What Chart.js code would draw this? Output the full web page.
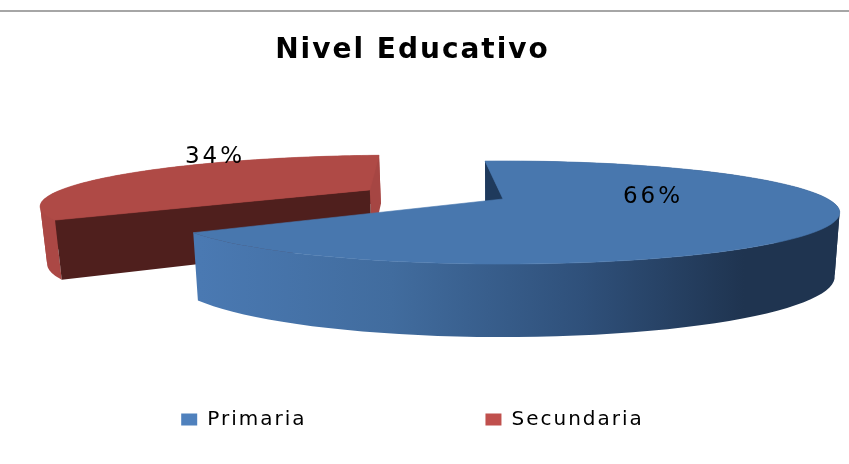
<!DOCTYPE html>
<html>
<head>
<meta charset="utf-8">
<style>
  html, body { margin: 0; padding: 0; background: #fff; }
  canvas { display: block; }
</style>
<script src="https://cdn.jsdelivr.net/npm/chart.js@4/dist/chart.umd.js"></script>
</head>
<body>
<canvas id="nivel-chart" width="849" height="464"></canvas>
<script>
const categories = ['Primaria', 'Secundaria'];
const values = [66, 34];
const chartTitle = 'Nivel Educativo';

const legendColors = ['#4f81bd', '#c0504d'];
const topColors = ['#4877ae', '#af4a46'];
const frontCutColors = ['#1f3a5c', '#4f1f1d'];
const backCutColors = ['#1f3a5c', '#a64643'];
const wallColors = [null, '#ab4845'];
const wallDepths = [62, 56];
const explodeShares = [0, 0.475];

// the flat pie from Chart.js gets tilted onto this ellipse
const CENTER_X = 503;
const CENTER_Y = 199;
const RADIUS_X = 325;
const RADIUS_Y = 48;
const PERSPECTIVE = 0.262;
const LABEL_POSITIONS = [[653, 197], [215, 157]];

function project(u, v) {
  const w = 1 - PERSPECTIVE * v;
  return [CENTER_X + (RADIUS_X * u) / w, CENTER_Y + (RADIUS_Y * v) / w];
}

// bottom rim sits a bit lower towards the viewer and a bit narrower
function extrude(point, index) {
  const depth = wallDepths[index] + 0.17 * (point[1] - CENTER_Y);
  return [CENTER_X + (point[0] - CENTER_X) * 0.985, point[1] + depth];
}

function arcPoints(arc, shiftU, shiftV) {
  const points = [];
  const steps = 90;
  for (let i = 0; i <= steps; i++) {
    const angle = arc.startAngle + ((arc.endAngle - arc.startAngle) * i) / steps;
    points.push(project(Math.cos(angle) + shiftU, Math.sin(angle) + shiftV));
  }
  return points;
}

function fillPolygon(ctx, points, fill) {
  ctx.beginPath();
  points.forEach((p, i) => (i ? ctx.lineTo(p[0], p[1]) : ctx.moveTo(p[0], p[1])));
  ctx.closePath();
  ctx.fillStyle = fill;
  ctx.fill();
}

function blueWallGradient(ctx) {
  const gradient = ctx.createLinearGradient(200, 0, 840, 0);
  gradient.addColorStop(0, '#4a79b2');
  gradient.addColorStop(0.3, '#416c9e');
  gradient.addColorStop(0.6, '#2f507a');
  gradient.addColorStop(0.85, '#1f3450');
  gradient.addColorStop(1, '#1f3450');
  return gradient;
}

// the rim turns back on itself at the ellipse's far left and right,
// so the wall is cut there or the overlap cancels out in the fill
function drawWall(ctx, rim, index) {
  const fill = wallColors[index] || blueWallGradient(ctx);
  let from = 0;
  for (let i = 1; i < rim.length; i++) {
    const turns =
      i < rim.length - 1 &&
      (rim[i][0] - rim[i - 1][0]) * (rim[i + 1][0] - rim[i][0]) < 0;
    if (turns || i === rim.length - 1) {
      const part = rim.slice(from, i + 1);
      const bottom = part.map((p) => extrude(p, index)).reverse();
      fillPolygon(ctx, part.concat(bottom), fill);
      from = i;
    }
  }
}

function cutFace(rimPoint, apex, index) {
  return [rimPoint, apex, extrude(apex, index), extrude(rimPoint, index)];
}

function drawSlice(ctx, arc, index) {
  const mid = (arc.startAngle + arc.endAngle) / 2;
  const shiftU = Math.cos(mid) * explodeShares[index];
  const shiftV = Math.sin(mid) * explodeShares[index];
  const rim = arcPoints(arc, shiftU, shiftV);
  const apex = project(shiftU, shiftV);
  const rimStart = rim[0];
  const rimEnd = rim[rim.length - 1];

  drawWall(ctx, rim, index);

  if (index === 0) {
    fillPolygon(ctx, cutFace(rimStart, apex, index), backCutColors[index]);
  } else {
    fillPolygon(ctx, cutFace(rimEnd, apex, index), backCutColors[index]);
    fillPolygon(ctx, cutFace(rimStart, apex, index), frontCutColors[index]);
  }

  fillPolygon(ctx, [apex].concat(rim), topColors[index]);
  ctx.strokeStyle = topColors[index];
  ctx.lineWidth = 0.6;
  ctx.stroke();
}

const tiltedPiePlugin = {
  id: 'tiltedPie',
  beforeUpdate(chart) {
    chart.ctx.letterSpacing = '2px';
  },
  beforeDraw(chart) {
    const { ctx } = chart;
    ctx.letterSpacing = '2px';
    ctx.fillStyle = '#a6a6a6';
    ctx.fillRect(0, 10, chart.width, 2);
  },
  beforeDatasetsDraw(chart) {
    const { ctx } = chart;
    const arcs = chart.getDatasetMeta(0).data;
    ctx.save();
    // red one is behind
    drawSlice(ctx, arcs[1], 1);
    drawSlice(ctx, arcs[0], 0);

    const total = values.reduce((sum, value) => sum + value, 0);
    ctx.font = '23px "DejaVu Sans"';
    ctx.letterSpacing = '3px';
    ctx.fillStyle = '#000';
    ctx.textAlign = 'center';
    ctx.textBaseline = 'middle';
    values.forEach((value, i) => {
      const text = `${Math.round((value / total) * 100)}%`;
      ctx.fillText(text, LABEL_POSITIONS[i][0], LABEL_POSITIONS[i][1]);
    });
    ctx.restore();
    return false;
  },
};

new Chart(document.getElementById('nivel-chart'), {
  type: 'pie',
  data: {
    labels: categories,
    datasets: [
      {
        data: values,
        backgroundColor: legendColors,
        borderWidth: 0,
      },
    ],
  },
  options: {
    responsive: false,
    animation: false,
    rotation: -4,
    layout: {
      padding: { top: 34, right: 24, bottom: 37 },
    },
    plugins: {
      title: {
        display: true,
        text: chartTitle,
        color: '#000',
        font: { family: '"DejaVu Sans"', size: 28, weight: 'bold' },
        padding: { top: 0, bottom: 10 },
      },
      legend: {
        position: 'bottom',
        labels: {
          boxWidth: 16,
          boxHeight: 12,
          padding: 179,
          color: '#000',
          font: { family: '"DejaVu Sans"', size: 20 },
        },
      },
      tooltip: { enabled: false },
    },
  },
  plugins: [tiltedPiePlugin],
});
</script>
</body>
</html>
